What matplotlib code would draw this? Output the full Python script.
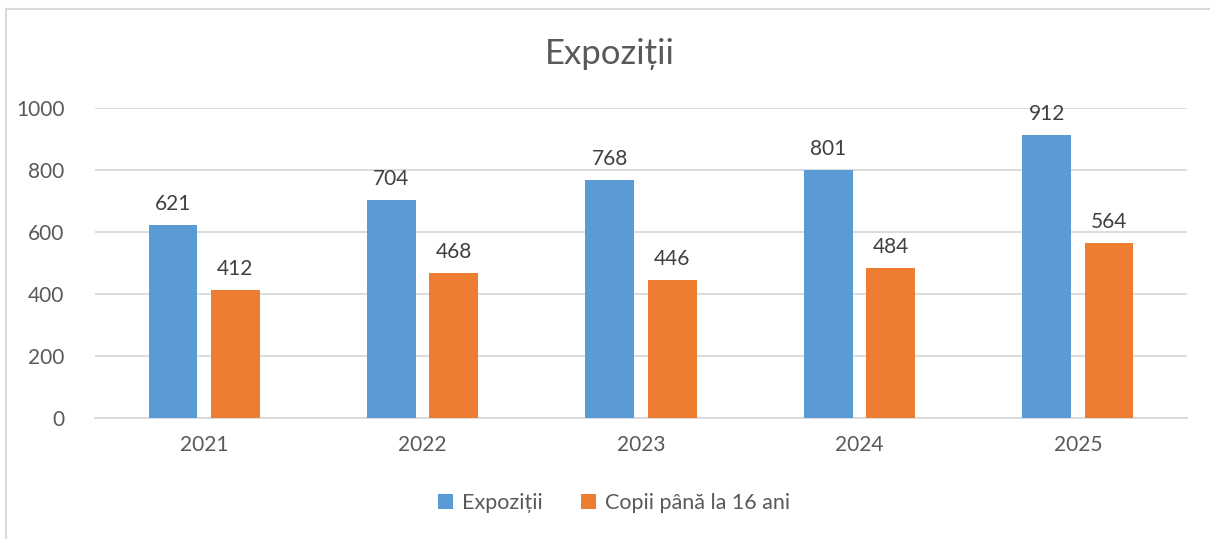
import numpy as np
import matplotlib
matplotlib.use("Agg")
import matplotlib.pyplot as plt
from matplotlib.lines import Line2D

# chart data
years = ["2021", "2022", "2023", "2024", "2025"]
expozitii = [621, 704, 768, 801, 912]
copii = [412, 468, 446, 484, 564]
series_names = ["Expoziții", "Copii până la 16 ani"]

BLUE = "#5B9BD5"
ORANGE = "#ED7D31"
TEXT = "#595959"
GRID = "#D9D9D9"

plt.rcParams["font.family"] = ["Lato", "DejaVu Sans"]

fig = plt.figure(figsize=(12.1, 5.39), dpi=100)
ax = fig.add_axes([95 / 1210, 121 / 539, 1092 / 1210, 310 / 539])

x = np.arange(len(years))
width = 0.224
offset = 0.143
b1 = ax.bar(x - offset, expozitii, width, color=BLUE, label=series_names[0], zorder=3)
b2 = ax.bar(x + offset, copii, width, color=ORANGE, label=series_names[1], zorder=3)

for bars in (b1, b2):
    ax.bar_label(bars, padding=8, fontsize=15, color="#404040")

ax.set_xlim(-0.5, len(years) - 0.5)
ax.set_ylim(0, 1000)
ax.set_yticks(np.arange(0, 1001, 200))
ax.set_xticks(x)
ax.set_xticklabels(years)
ax.tick_params(axis="both", length=0, labelsize=15, labelcolor=TEXT)
ax.tick_params(axis="y", pad=22)
ax.tick_params(axis="x", pad=12)
ax.grid(axis="y", color=GRID, linewidth=1.3, zorder=0)
for side in ["top", "right", "left"]:
    ax.spines[side].set_visible(False)
ax.spines["bottom"].set_color(GRID)
ax.spines["bottom"].set_linewidth(1.3)

fig.text(610 / 1210, 1 - 54 / 539, "Expoziții", ha="center", va="center",
         fontsize=25, color=TEXT)

leg = fig.legend(handles=[b1, b2], loc="center", bbox_to_anchor=(614 / 1210, 1 - 503 / 539),
                 ncol=2, frameon=False, fontsize=15.5, handlelength=0.7, handleheight=0.7,
                 columnspacing=1.8, handletextpad=0.4)
for t in leg.get_texts():
    t.set_color(TEXT)

# chart area border (only top and left visible in the crop)
fig.add_artist(Line2D([6 / 1210, 6 / 1210], [0, 1 - 9 / 539], color=GRID, linewidth=1.5))
fig.add_artist(Line2D([6 / 1210, 1], [1 - 9 / 539, 1 - 9 / 539], color=GRID, linewidth=1.5))

fig.savefig("out.png", dpi=100)
